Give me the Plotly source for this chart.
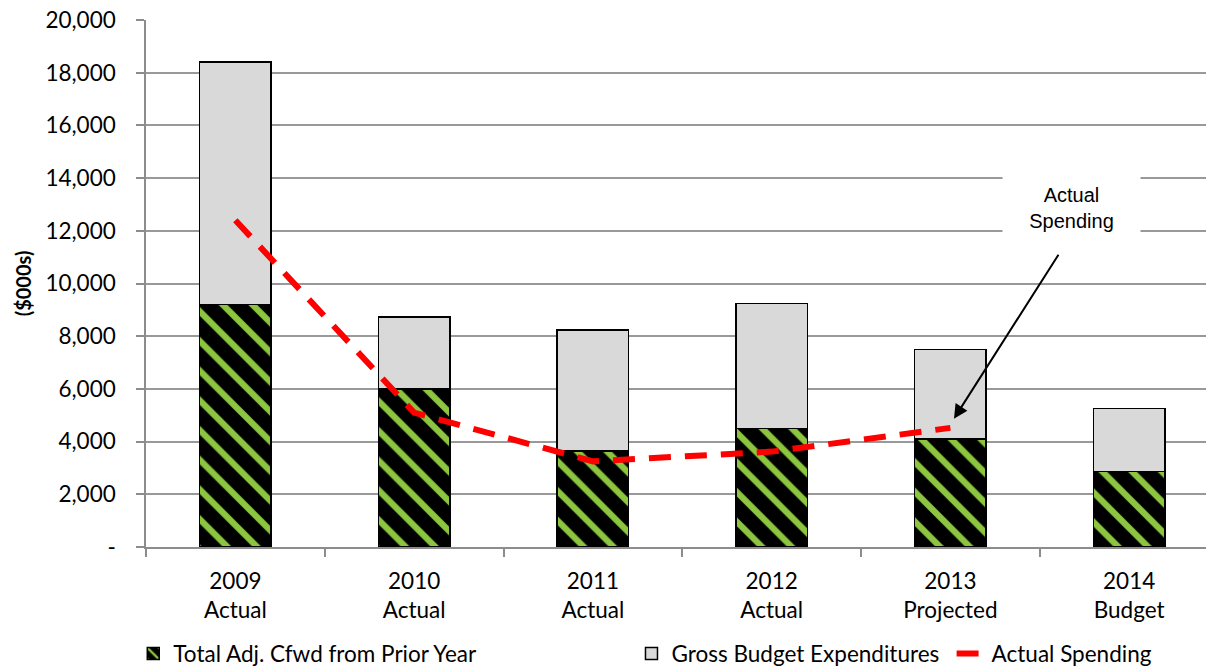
import plotly.graph_objects as go

categories = ["2009<br>Actual", "2010<br>Actual", "2011<br>Actual", "2012<br>Actual", "2013<br>Projected", "2014<br>Budget"]
cfwd = [9200, 6000, 3650, 4500, 4100, 2870]
gross_total = [18400, 8730, 8230, 9250, 7500, 5260]
gross = [t - c for t, c in zip(gross_total, cfwd)]
actual_spending = [12400, 5100, 3250, 3620, 4520, None]
ytick_vals = list(range(0, 20001, 2000))
ytick_text = ["-"] + [f"{v:,}" for v in ytick_vals[1:]]

FONT = "Lato"

fig = go.Figure()
fig.add_trace(go.Bar(
    x=categories, y=cfwd, name="Total Adj. Cfwd from Prior Year",
    width=0.4,
    marker=dict(color="black", line=dict(color="black", width=1.5),
                pattern=dict(shape="\\", bgcolor="black", fgcolor="#8CC63F",
                             size=21, solidity=0.3, fillmode="replace")),
    legend="legend",
))
fig.add_trace(go.Bar(
    x=categories, y=gross, name="Gross Budget Expenditures",
    width=0.4,
    marker=dict(color="#D9D9D9", line=dict(color="black", width=1.5)),
    legend="legend2",
))
fig.add_trace(go.Scatter(
    x=categories, y=actual_spending, name="Actual Spending",
    mode="lines", line=dict(color="#FF0000", width=6, dash="22px,14px"),
    legend="legend3",
))

leg_font = dict(family=FONT, size=22.5)
LEG_Y = -0.203
fig.update_layout(
    barmode="stack",
    width=1206, height=672,
    margin=dict(l=146, r=0, t=20, b=125, autoexpand=False),
    plot_bgcolor="white", paper_bgcolor="white",
    font=dict(family=FONT, size=22.5, color="black"),
    xaxis=dict(
        type="category", range=[-0.5, 5.43],
        showline=True, linecolor="#8c8c8c", linewidth=1.5,
        ticks="outside", tickson="boundaries", ticklen=8, tickcolor="#8c8c8c", tickwidth=1.5,
        tickfont=dict(family=FONT, size=22.5),
        ticklabelstandoff=13,
        showgrid=False,
    ),
    yaxis=dict(
        range=[0, 20000], tickvals=ytick_vals, ticktext=ytick_text,
        showline=True, linecolor="#8c8c8c", linewidth=1.5,
        ticks="outside", ticklen=8, tickcolor="#8c8c8c", tickwidth=1.5,
        showgrid=True, gridcolor="#999999", gridwidth=1.5,
        tickfont=dict(family=FONT, size=22.5),
        ticklabelstandoff=16,
        zeroline=False,
        title=dict(text="<b>($000s)</b>", font=dict(family=FONT, size=20), standoff=8),
    ),
    legend=dict(orientation="h", x=-0.012, y=LEG_Y, xanchor="left", yanchor="middle",
                font=leg_font, bgcolor="rgba(0,0,0,0)"),
    legend2=dict(orientation="h", x=0.458, y=LEG_Y, xanchor="left", yanchor="middle",
                 font=leg_font, bgcolor="rgba(0,0,0,0)"),
    legend3=dict(orientation="h", x=0.76, y=LEG_Y, xanchor="left", yanchor="middle",
                 font=leg_font, bgcolor="rgba(0,0,0,0)"),
    showlegend=True,
)

# Annotation text with white box
fig.add_annotation(
    x=4.68, y=12880, xref="x", yref="y", text="Actual<br>Spending",
    showarrow=False, font=dict(family="Liberation Sans", size=20, color="black"),
    bgcolor="white", width=135, height=62,
)
# Arrow
fig.add_annotation(
    x=4.02, y=4870, xref="x", yref="y", ax=4.61, ay=11150, axref="x", ayref="y",
    text="", showarrow=True, arrowhead=2, arrowsize=1.4, arrowwidth=2, arrowcolor="black",
)

fig.write_html("out.html")
